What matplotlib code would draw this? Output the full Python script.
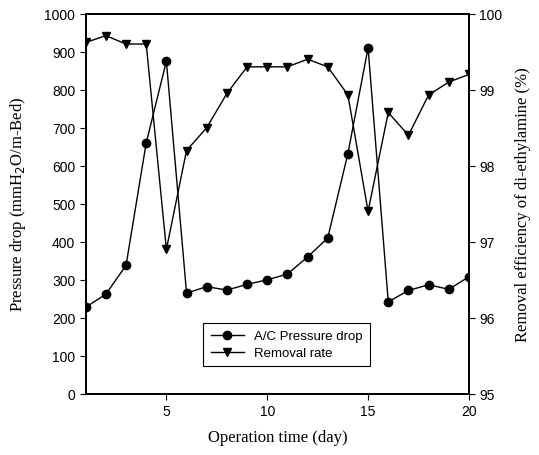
import matplotlib.pyplot as plt

dias = list(range(1, 21))
pressao = [228, 262, 338, 660, 875, 265, 282, 273, 288, 300,
           315, 360, 410, 632, 910, 242, 272, 287, 275, 308]
remocao = [99.62, 99.71, 99.6, 99.6, 96.9, 98.2, 98.5, 98.95, 99.3, 99.3,
           99.3, 99.4, 99.3, 98.93, 97.4, 98.7, 98.4, 98.93, 99.1, 99.2]

fig = plt.figure(figsize=(5.39, 4.56), dpi=100)
ax = fig.add_axes([0.159, 0.134, 0.711, 0.834])
ax2 = ax.twinx()

l1, = ax.plot(dias, pressao, "k-", marker="o", markersize=6, linewidth=1,
              label="A/C Pressure drop")
l2, = ax2.plot(dias, remocao, "k-", marker="v", markersize=6, linewidth=1,
               label="Removal rate")

ax.set_xlim(1, 20)
ax.set_ylim(0, 1000)
ax2.set_ylim(95, 100)
ax.set_xticks([5, 10, 15, 20])
ax.set_yticks(range(0, 1001, 100))
ax2.set_yticks(range(95, 101))

for a in (ax, ax2):
    a.tick_params(direction="out", length=4, labelsize=10)
    for lab in a.get_xticklabels() + a.get_yticklabels():
        lab.set_fontfamily("Liberation Sans")
    for s in a.spines.values():
        s.set_linewidth(1.3)

ax.set_xlabel("Operation time (day)", fontfamily="Liberation Serif", fontsize=12, labelpad=8)
ax.set_ylabel("Pressure drop (mmH$_2$O/m-Bed)", fontfamily="Liberation Serif", fontsize=12,
              labelpad=12)
ax2.set_ylabel("Removal efficiency of di-ethylamine (%)", fontfamily="Liberation Serif",
               fontsize=12, labelpad=9)

leg = ax.legend(handles=[l1, l2], loc="lower left", bbox_to_anchor=(0.29, 0.055),
                prop={"family": "Liberation Sans", "size": 9.5}, fancybox=False,
                edgecolor="black", framealpha=1, handlelength=2.5,
                borderpad=0.55, labelspacing=0.35)
leg.get_frame().set_linewidth(0.8)

fig.savefig("out.png", dpi=100)
